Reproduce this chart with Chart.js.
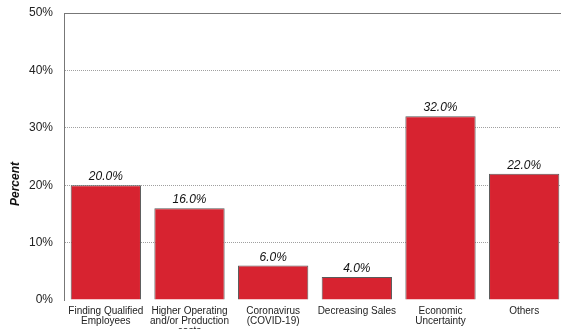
<!DOCTYPE html>
<html>
<head>
<meta charset="utf-8">
<script src="https://cdn.jsdelivr.net/npm/chart.js@4/dist/chart.umd.min.js"></script>
<style>
  html, body { margin: 0; padding: 0; background: #fff; overflow: hidden; }
  #wrap { position: relative; width: 566px; height: 340px; }
</style>
</head>
<body>
<div id="wrap"><canvas id="c" width="566" height="340"></canvas></div>
<script>
const categories = [
  ["Finding Qualified", "Employees"],
  ["Higher Operating", "and/or Production", "costs"],
  ["Coronavirus", "(COVID-19)"],
  ["Decreasing Sales"],
  ["Economic", "Uncertainty"],
  ["Others"]
];
const percentValues = [20.0, 16.0, 6.0, 4.0, 32.0, 22.0];
const yTicks = [0, 10, 20, 30, 40, 50];

const FONT = "'Liberation Sans', Arial, sans-serif";

const decorations = {
  id: 'decorations',
  afterDatasetsDraw(chart) {
    const ctx = chart.ctx;
    const area = chart.chartArea;
    const meta = chart.getDatasetMeta(0);
    ctx.save();
    // top frame line
    ctx.strokeStyle = '#777';
    ctx.lineWidth = 1;
    ctx.beginPath();
    ctx.moveTo(area.left, Math.round(area.top) + 0.5);
    ctx.lineTo(area.right, Math.round(area.top) + 0.5);
    ctx.stroke();
    // value labels
    ctx.fillStyle = '#111';
    ctx.font = 'italic 12px ' + FONT;
    ctx.textAlign = 'center';
    ctx.textBaseline = 'alphabetic';
    meta.data.forEach((bar, i) => {
      ctx.fillText(percentValues[i].toFixed(1) + '%', bar.x, bar.y - 5);
    });
    // axis title
    ctx.font = 'italic bold 12px ' + FONT;
    ctx.fillStyle = '#111';
    ctx.translate(16, 184);
    ctx.rotate(-Math.PI / 2);
    ctx.textBaseline = 'middle';
    ctx.fillText('Percent', 0, 0);
    ctx.restore();
  }
};

new Chart(document.getElementById('c'), {
  type: 'bar',
  data: {
    labels: categories,
    datasets: [{
      data: percentValues,
      backgroundColor: '#d72330',
      borderColor: '#5a5a5a',
      borderWidth: 1,
      barPercentage: 0.84,
      categoryPercentage: 1.0
    }]
  },
  options: {
    responsive: false,
    animation: false,
    devicePixelRatio: 1,
    layout: { padding: { top: 13, left: 0, right: 0, bottom: 0 } },
    plugins: { legend: { display: false }, tooltip: { enabled: false } },
    scales: {
      x: {
        grid: { display: false, drawTicks: false },
        border: { display: false },
        ticks: {
          font: { family: FONT, size: 10, lineHeight: 1.0 },
          color: '#222',
          padding: 6,
          maxRotation: 0,
          autoSkip: false
        },
        afterFit(axis) { axis.height = 40; axis.paddingLeft = 0; axis.paddingRight = 0; }
      },
      y: {
        min: 0,
        max: 50,
        afterBuildTicks(axis) { axis.ticks = yTicks.map(v => ({ value: v })); },
        grid: {
          color: (c) => (c.tick && c.tick.value > 0 && c.tick.value < 50) ? '#a0a0a0' : 'rgba(0,0,0,0)',
          drawTicks: false,
          lineWidth: 1
        },
        border: { display: true, color: '#777', width: 1, dash: [1, 1] },
        ticks: {
          font: { family: FONT, size: 12 },
          color: '#222',
          padding: 11,
          callback: (v) => v + '%'
        },
        afterFit(axis) { axis.width = 64; axis.paddingTop = 0; axis.paddingBottom = 0; }
      }
    }
  },
  plugins: [decorations]
});
</script>
</body>
</html>
